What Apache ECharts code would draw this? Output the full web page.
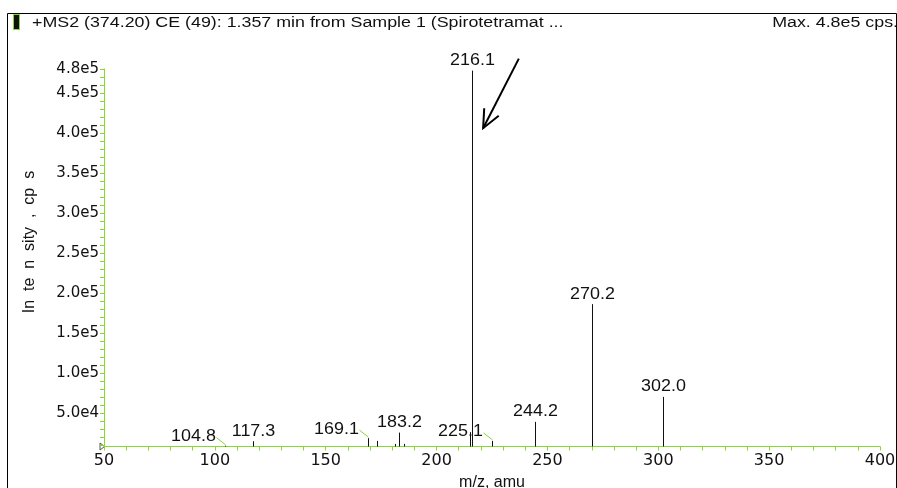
<!DOCTYPE html>
<html>
<head>
<meta charset="utf-8">
<script src="https://cdn.jsdelivr.net/npm/echarts@6/dist/echarts.min.js"></script>
<style>
  html, body { margin: 0; padding: 0; background: #fff; }
  #chart { width: 897px; height: 488px; }
</style>
</head>
<body>
<div id="chart"></div>
<script>
// Product-ion spectrum of m/z 374.20 (CE 49) at 1.357 min.
const mzValues    = [104.8, 117.3, 169.1, 173.2, 181.1, 183.2, 185.2, 215.0, 216.1, 225.1, 244.2, 270.2, 302.0];
const intensities = [9000, 14600, 18400, 15000, 11200, 25400, 11200, 26000, 478000, 15000, 38800, 186000, 70000];
// peaks that carry an m/z label, and those whose label sits aside with a leader line
const labeledPeaks = [104.8, 117.3, 169.1, 183.2, 216.1, 225.1, 244.2, 270.2, 302.0];
const leaderPeaks  = [104.8, 169.1, 225.1];
// axis tick values
const xTickMin = 50, xTickMax = 400, xLabelStep = 50;
const yLabelValues = [50000, 100000, 150000, 200000, 250000, 300000, 350000, 400000, 450000, 480000];
const yMinorValues = Array.from({ length: 48 }, (_, i) => (i + 1) * 10000);
const yMin = 8000, yMax = 480000;

const titleText = '+MS2 (374.20) CE (49): 1.357 min from Sample 1 (Spirotetramat ...';
const maxText = 'Max. 4.8e5 cps.';
const yName = 'In  te  n  sity  ,  cp  s';
const xName = 'm/z, amu';

const GREEN = '#86d92e';
const INK = '#111';
const LABEL_FONT = '16px "Liberation Sans", Arial, sans-serif';

const chart = echarts.init(document.getElementById('chart'), null, { renderer: 'canvas' });

function renderPeak(params, api) {
  const mz = api.value(0);
  const inten = api.value(1);
  const base = api.coord([mz, yMin]);
  const top = api.coord([mz, inten]);
  const x = Math.round(base[0]) + 0.5;
  const children = [{
    type: 'line',
    shape: { x1: x, y1: base[1], x2: x, y2: top[1] },
    style: { stroke: INK, lineWidth: 1 }
  }];
  if (labeledPeaks.includes(mz)) {
    const text = mz.toFixed(1);
    if (leaderPeaks.includes(mz)) {
      const lx = x - 32, ly = top[1] - 9;
      children.push({
        type: 'text', x: lx, y: ly, scaleX: 1.12,
        style: { x: 0, y: 0, text, font: LABEL_FONT, fill: INK, align: 'center', verticalAlign: 'middle' }
      });
      children.push({
        type: 'line',
        shape: { x1: lx + 23, y1: ly + 1, x2: x, y2: top[1] - 1 },
        style: { stroke: GREEN, lineWidth: 1 }
      });
    } else {
      children.push({
        type: 'text', x: x, y: top[1] - 2, scaleX: 1.12,
        style: { x: 0, y: 0, text, font: LABEL_FONT, fill: INK, align: 'center', verticalAlign: 'bottom' }
      });
    }
  }
  return { type: 'group', children };
}

const option = {
  animation: false,
  backgroundColor: '#fff',
  grid: { left: 104, right: 17, top: 69, bottom: 41.5, containLabel: false, outerBoundsMode: 'none' },
  xAxis: {
    type: 'value',
    min: xTickMin, max: xTickMax, interval: xLabelStep,
    name: xName, nameLocation: 'middle', nameGap: 28,
    nameTextStyle: { fontFamily: 'Liberation Sans', fontSize: 16, color: INK },
    axisLine: { show: true, lineStyle: { color: GREEN, width: 1 } },
    axisTick: { show: true, length: 4, lineStyle: { color: GREEN } },
    minorTick: { show: true, splitNumber: 5, length: 4, lineStyle: { color: GREEN } },
    axisLabel: { margin: 6, fontFamily: 'DejaVu Sans', fontSize: 16, color: INK },
    splitLine: { show: false }
  },
  yAxis: {
    type: 'value',
    min: yMin, max: yMax,
    axisLine: { show: true, onZero: false, lineStyle: { color: GREEN, width: 1 } },
    axisTick: { show: true, length: 4, customValues: yMinorValues, lineStyle: { color: GREEN } },
    axisLabel: {
      margin: 5, customValues: yLabelValues,
      fontFamily: 'DejaVu Sans', fontSize: 15, color: INK,
      formatter: v => Number(v).toExponential(1).replace('+', '')
    },
    splitLine: { show: false }
  },
  series: [{
    type: 'custom',
    renderItem: renderPeak,
    encode: { x: 0, y: 1 },
    data: mzValues.map((m, i) => [m, intensities[i]]),
    clip: false
  }]
};
chart.setOption(option);

// Header, frame, axis-origin marker and the arrow pointing at the base peak
const origin = chart.convertToPixel({ gridIndex: 0 }, [xTickMin, yMin]);
const arrowTail = chart.convertToPixel({ gridIndex: 0 }, [237.1, 493000]);
const arrowTip = chart.convertToPixel({ gridIndex: 0 }, [221.0, 406000]);
const ang = Math.atan2(arrowTip[1] - arrowTail[1], arrowTip[0] - arrowTail[0]);
const headLen = 20, headSpread = 0.42;
const headA = [arrowTip[0] - headLen * Math.cos(ang - headSpread), arrowTip[1] - headLen * Math.sin(ang - headSpread)];
const headB = [arrowTip[0] - headLen * Math.cos(ang + headSpread), arrowTip[1] - headLen * Math.sin(ang + headSpread)];

chart.setOption({
  graphic: [
    { type: 'rect', silent: true, shape: { x: 7.5, y: 13.5, width: 889, height: 500 },
      style: { fill: 'none', stroke: '#000', lineWidth: 1 } },
    { type: 'rect', silent: true, shape: { x: 13.5, y: 14.5, width: 6, height: 15 },
      style: { fill: '#111', stroke: GREEN, lineWidth: 1 } },
    { type: 'text', x: 32, y: 23, scaleX: 1.15,
      style: { text: titleText, font: '15.5px "Liberation Sans", Arial, sans-serif', fill: INK, align: 'left', verticalAlign: 'middle' } },
    { type: 'text', x: 898, y: 23, scaleX: 1.15,
      style: { text: maxText, font: '15.5px "Liberation Sans", Arial, sans-serif', fill: INK, align: 'right', verticalAlign: 'middle' } },
    { type: 'text', x: 30, y: 242, rotation: Math.PI / 2,
      style: { text: yName, font: '16px "Liberation Sans", Arial, sans-serif', fill: INK, align: 'center', verticalAlign: 'middle' } },
    { type: 'polygon', silent: true,
      shape: { points: [[origin[0] - 4, origin[1] - 3.5], [origin[0] + 0.5, origin[1]], [origin[0] - 4, origin[1] + 3.5]] },
      style: { fill: '#fff', stroke: '#555', lineWidth: 1 } },
    { type: 'polyline', silent: true, shape: { points: [arrowTail, arrowTip] },
      style: { stroke: '#000', lineWidth: 2, fill: 'none' } },
    { type: 'polyline', silent: true, shape: { points: [headA, arrowTip, headB] },
      style: { stroke: '#000', lineWidth: 2, fill: 'none' } }
  ]
});
</script>
</body>
</html>
